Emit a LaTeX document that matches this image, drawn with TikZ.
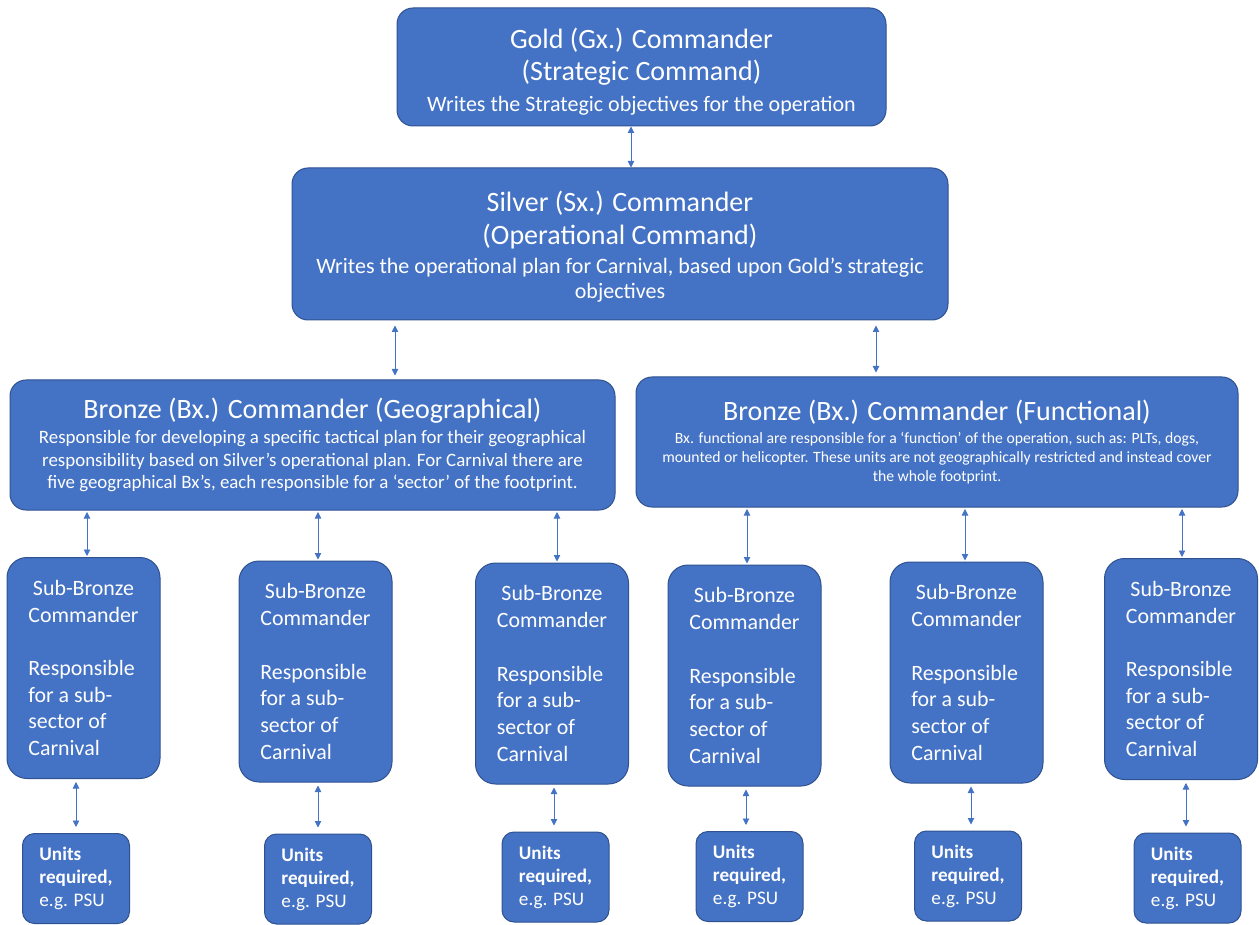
\documentclass[tikz,border=0pt]{standalone}
\usepackage{fontspec}
\setmainfont{Carlito}
\usetikzlibrary{arrows.meta}
\definecolor{boxfill}{HTML}{4472C4}
\definecolor{boxline}{HTML}{2F528F}
\newlength\headw
\newcommand\titlefont{\fontsize{28}{32}\selectfont}
\newcommand\leadfont{\fontsize{22}{27}\selectfont}
\newcommand\geofont{\fontsize{18.9}{22.5}\selectfont}
\newcommand\funcfont{\fontsize{15.7}{19}\selectfont}
\newcommand\subfont{\fontsize{21.9}{26.7}\selectfont}
\newcommand\subbronze{\makebox[\headw]{Sub-Bronze}\\\makebox[\headw]{Commander}\\[26.7pt]Responsible\\for a sub-\\sector of\\Carnival}
\newcommand\unitsreq{\textbf{Units}\\\textbf{required,}\\e.g. PSU}
\begin{document}
\settowidth{\headw}{\subfont Commander}
\begin{tikzpicture}[x=1pt,y=-1pt,
  box/.style={draw=boxline, fill=boxfill, line width=1pt, text=white, align=center, inner sep=0pt},
  cmd/.style={box, rounded corners=16pt, font=\titlefont},
  subbox/.style={box, rounded corners=20pt, minimum width=153pt, minimum height=221pt,
    font=\subfont, align=left},
  unitbox/.style={box, rounded corners=12pt, minimum width=107pt, minimum height=90pt,
    font=\fontsize{19.2}{23}\selectfont, align=left},
  link/.style={draw=boxfill, line width=0.9pt,
    {Triangle[length=6.5pt,width=6.5pt]}-{Triangle[length=6.5pt,width=6.5pt]}}]
\useasboundingbox (0,0) rectangle (1259,925);

% command levels
\node[cmd, minimum width=489pt, minimum height=118pt] (gold) at (641.5,67)
  {\rule{0pt}{30pt}Gold (Gx.) Commander\\(Strategic Command)\\[-1pt]
   {\leadfont Writes the Strategic objectives for the operation}};
\node[cmd, minimum width=656pt, minimum height=152pt] (silver) at (620,244)
  {\rule{0pt}{26pt}Silver (Sx.) Commander\\[1pt](Operational Command)\\[-3pt]
   {\leadfont Writes the operational plan for Carnival, based upon Gold’s strategic}\\[-7pt]
   {\leadfont objectives}};
\node[cmd, minimum width=605pt, minimum height=130pt] (geo) at (312.5,445)
  {Bronze (Bx.) Commander (Geographical)\\[-7pt]
   {\geofont Responsible for developing a specific tactical plan for their geographical}\\[-9.5pt]
   {\geofont responsibility based on Silver’s operational plan. For Carnival there are}\\[-9.5pt]
   {\geofont five geographical Bx’s, each responsible for a ‘sector’ of the footprint.}};
\node[cmd, minimum width=602pt, minimum height=130pt] (func) at (937,442)
  {Bronze (Bx.) Commander (Functional)\\[-9pt]
   {\funcfont Bx. functional are responsible for a ‘function’ of the operation, such as: PLTs, dogs,}\\[-13pt]
   {\funcfont mounted or helicopter. These units are not geographically restricted and instead cover}\\[-13pt]
   {\funcfont the whole footprint.}};

% sub-bronze commanders
\node[subbox] (sb1) at (83.5,668)   {\subbronze};
\node[subbox] (sb2) at (315.5,671.5) {\subbronze};
\node[subbox] (sb3) at (552,673.5)   {\subbronze};
\node[subbox] (sb4) at (744.5,675.5) {\subbronze};
\node[subbox] (sb5) at (966.5,672.5) {\subbronze};
\node[subbox] (sb6) at (1181,669)    {\subbronze};

% units
\node[unitbox] (u1) at (76,878.5)   {\unitsreq};
\node[unitbox] (u2) at (318,879)    {\unitsreq};
\node[unitbox] (u3) at (555.5,877)  {\unitsreq};
\node[unitbox] (u4) at (749.5,876.5) {\unitsreq};
\node[unitbox] (u5) at (968,876)    {\unitsreq};
\node[unitbox] (u6) at (1187.5,878) {\unitsreq};

% two-way links
\draw[link] (gold.south -| 631,0) -- (silver.north -| 631,0);
\draw[link, shorten <=5pt, shorten >=4pt] (silver.south -| 395,0) -- (geo.north -| 395,0);
\draw[link, shorten <=5pt, shorten >=4pt] (silver.south -| 876,0) -- (func.north -| 876,0);

\draw[link, shorten <=1.5pt, shorten >=1pt] (geo.south -| 87,0)    -- (sb1.north -| 87,0);
\draw[link, shorten <=1.5pt, shorten >=1pt] (geo.south -| 318,0)   -- (sb2.north -| 318,0);
\draw[link, shorten <=1.5pt, shorten >=1pt] (geo.south -| 557,0)   -- (sb3.north -| 557,0);
\draw[link, shorten <=1.5pt, shorten >=1pt] (func.south -| 747,0)  -- (sb4.north -| 747,0);
\draw[link, shorten <=1.5pt, shorten >=1pt] (func.south -| 965,0)  -- (sb5.north -| 965,0);
\draw[link, shorten <=1.5pt, shorten >=1pt] (func.south -| 1182,0) -- (sb6.north -| 1182,0);

\draw[link, shorten <=3pt, shorten >=6pt] (sb1.south -| 76,0)   -- (u1.north -| 76,0);
\draw[link, shorten <=3pt, shorten >=6pt] (sb2.south -| 318,0)  -- (u2.north -| 318,0);
\draw[link, shorten <=3pt, shorten >=6pt] (sb3.south -| 554,0)  -- (u3.north -| 554,0);
\draw[link, shorten <=3pt, shorten >=6pt] (sb4.south -| 746,0)  -- (u4.north -| 746,0);
\draw[link, shorten <=3pt, shorten >=6pt] (sb5.south -| 971,0)  -- (u5.north -| 971,0);
\draw[link, shorten <=3pt, shorten >=6pt] (sb6.south -| 1186,0) -- (u6.north -| 1186,0);
\end{tikzpicture}
\end{document}
